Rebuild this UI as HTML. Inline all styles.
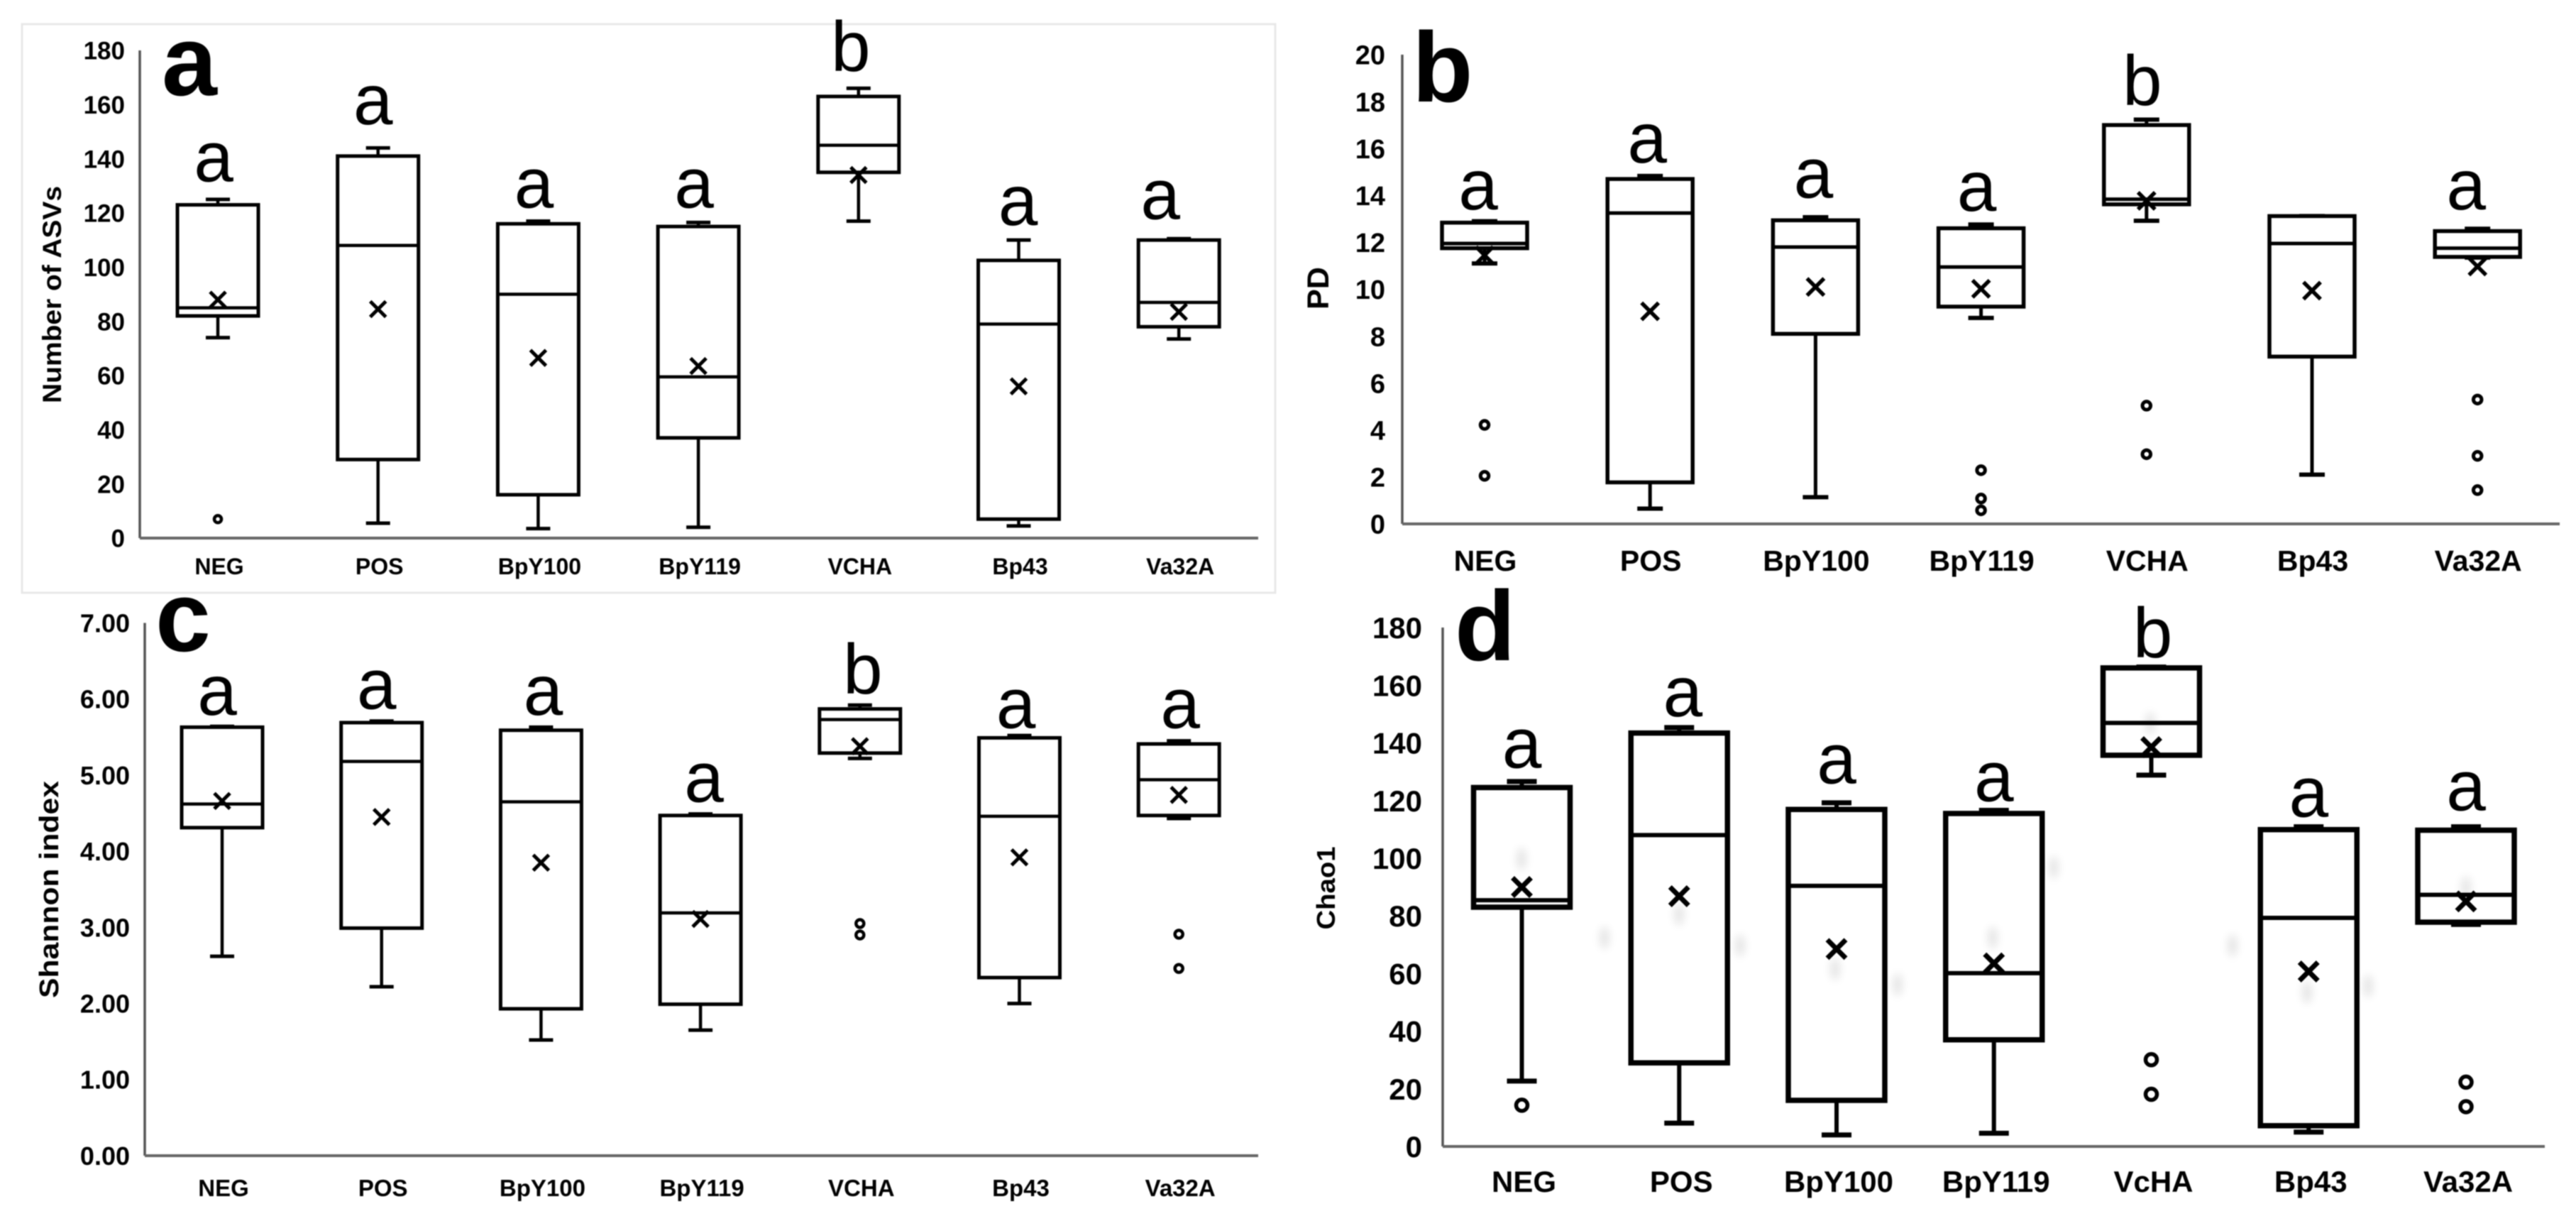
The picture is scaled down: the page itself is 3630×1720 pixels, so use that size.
<!DOCTYPE html>
<html lang="en">
<head>
<meta charset="utf-8">
<title>Alpha diversity box plots</title>
<style>
html,body{margin:0;padding:0;background:#fff;width:3630px;height:1720px;overflow:hidden}
svg{display:block;filter:blur(0.85px)}
text{font-family:"Liberation Sans",Arial,sans-serif;fill:#000}
</style>
</head>
<body>
<svg id="figure" xmlns="http://www.w3.org/2000/svg" width="3630" height="1720" viewBox="0 0 3630 1720">
<defs><filter id="soft" x="-100%" y="-100%" width="300%" height="300%"><feGaussianBlur stdDeviation="6"/></filter></defs>
<rect width="3630" height="1720" fill="#fff"/>
<rect x="31" y="34" width="1766" height="801" fill="none" stroke="#e8e8e8" stroke-width="3"/>
</svg>
<script>
const categories = ['NEG','POS','BpY100','BpY119','VCHA','Bp43','Va32A'];
const categoriesD = ['NEG','POS','BpY100','BpY119','VcHA','Bp43','Va32A'];

const ticksA = [0,20,40,60,80,100,120,140,160,180];
const lowA = [74,5.5,3.5,4,117,4.5,73.5];
const q1A = [82,29,16,37,135,7,78];
const medianA = [85,108,90,59.5,145,79,87];
const q3A = [123,141,116,115,163,102.5,110];
const highA = [125,144,117,116.5,166,110,110.5];
const meanA = [88,84.5,66.5,63.5,134,56,83.5];
const outliersA = [[7],[],[],[],[],[],[]];
const lettersA = ['a','a','a','a','b','a','a'];
const letterLevelA = [131.7,152.7,122,122,172.4,115.5,117.8];

const ticksB = [0,2,4,6,8,10,12,14,16,18,20];
const lowB = [11.1,0.65,1.14,8.78,12.92,2.1,11.35];
const q1B = [11.75,1.77,8.1,9.26,13.62,7.13,11.38];
const medianB = [11.95,13.25,11.8,10.95,13.84,11.95,11.75];
const q3B = [12.84,14.7,12.94,12.6,17,13.12,12.48];
const highB = [12.9,14.83,13.07,12.76,17.23,13.12,12.58];
const meanB = [11.45,9.06,10.1,10.02,13.77,9.94,10.97];
const outliersB = [[4.22,2.05],[],[],[2.29,1.08,0.58],[5.04,2.97],[],[5.3,2.9,1.44]];
const lettersB = ['a','a','a','a','b','','a'];
const letterLevelB = [13.4,15.4,13.9,13.35,17.85,0,13.4];

const ticksC = [0,1,2,3,4,5,6,7];
const lowC = [2.62,2.22,1.52,1.65,5.22,2,4.43];
const q1C = [4.31,2.99,1.93,1.99,5.29,2.34,4.47];
const medianC = [4.62,5.18,4.65,3.19,5.73,4.46,4.94];
const q3C = [5.63,5.69,5.59,4.47,5.87,5.49,5.41];
const highC = [5.64,5.71,5.63,4.49,5.92,5.52,5.45];
const meanC = [4.66,4.45,3.85,3.11,5.38,3.92,4.74];
const outliersC = [[],[],[],[],[3.05,2.9],[],[2.91,2.46]];
const lettersC = ['a','a','a','a','b','a','a'];
const letterLevelC = [5.79,5.87,5.79,4.65,6.07,5.62,5.62];

const ticksD = [0,20,40,60,80,100,120,140,160,180];
const lowD = [22.7,8.1,4,4.6,128.8,5,77];
const q1D = [83,29,16,37,135.7,7.2,77.8];
const medianD = [85.4,108,90.4,60.1,146.9,79.3,87.3];
const q3D = [124.5,143.4,116.9,115.5,166,109.9,109.7];
const highD = [126.6,145.3,119.2,116.6,166.3,110.9,110.9];
const meanD = [90,86.8,68.5,63.5,138.5,60.7,85];
const outliersD = [[14.3],[],[],[],[30.1,18.1],[],[22.3,13.8]];
const lettersD = ['a','a','a','a','b','a','a'];
const letterLevelD = [131.4,149.2,126,119.8,169.6,114.4,116.6];

const svg = document.getElementById('figure');

function make(tag, attrs, parent, content) {
  const el = document.createElementNS('http://www.w3.org/2000/svg', tag);
  for (const k in attrs) el.setAttribute(k, attrs[k]);
  if (content !== undefined) el.textContent = content;
  parent.appendChild(el);
  return el;
}

function drawPanel(p) {
  const g = make('g', {}, svg);
  
  
  const y = v => p.y0 - (v / p.max) * (p.y0 - p.yTop);
  const x = i => p.first + i * p.step;

  const yAxis = make('line', {x1:p.xAxis, x2:p.xAxis, y1:p.yTop, y2:p.y0, stroke:'#555', 'stroke-width':3.5}, g);
  
  
  const xAxis = make('line', {x1:p.xAxis, x2:p.xRight, y1:p.y0, y2:p.y0, stroke:'#666', 'stroke-width':4}, g);
  
  

  p.ticks.forEach(t => {
    const label = make('text', {x:p.tickRight, y:y(t) + p.tickFont * 0.36, 'font-size':p.tickFont, 'font-weight':'bold', 'text-anchor':'end'}, g, t.toFixed(p.decimals));
    
    
  });

  const title = make('text', {transform:'translate(' + p.titleX + ',' + p.titleY + ') rotate(-90)', 'font-size':p.titleFont, 'font-weight':'bold', 'text-anchor':'middle', textLength:p.titleLen, lengthAdjust:'spacingAndGlyphs'}, g, p.title);
  
  

  const tag = make('text', {x:p.tagX, y:p.tagY, 'font-size':140, 'font-weight':'bold'}, g, p.id);
  
  

  p.cats.forEach((cat, i) => {
    const cx = x(i);
    const box = make('g', {}, g);
    
    

    const whisker = make('line', {x1:cx, x2:cx, y1:y(p.high[i]), y2:y(p.low[i]), stroke:'#000', 'stroke-width':p.whiskerW}, box);
    
    

    [p.low[i], p.high[i]].forEach(v => {
      const cap = make('line', {x1:cx - p.capHalf, x2:cx + p.capHalf, y1:y(v), y2:y(v), stroke:'#000', 'stroke-width':p.capW}, box);
      
      
    });

    const rect = make('rect', {x:cx - p.half, width:p.half * 2, y:y(p.q3[i]), height:y(p.q1[i]) - y(p.q3[i]), fill:'#fff', stroke:'#000', 'stroke-width':p.boxW}, box);
    
    

    const med = make('line', {x1:cx - p.half, x2:cx + p.half, y1:y(p.median[i]), y2:y(p.median[i]), stroke:'#000', 'stroke-width':p.medW}, box);
    
    

    const my = y(p.mean[i]);
    const mean = make('path', {d:'M' + (cx - p.meanHalf) + ' ' + (my - p.meanHalf) + 'L' + (cx + p.meanHalf) + ' ' + (my + p.meanHalf) + 'M' + (cx + p.meanHalf) + ' ' + (my - p.meanHalf) + 'L' + (cx - p.meanHalf) + ' ' + (my + p.meanHalf), stroke:'#000', 'stroke-width':p.meanW, fill:'none'}, box);
    
    

    p.outliers[i].forEach(v => {
      const dot = make('circle', {cx:cx, cy:y(v), r:p.dotR, fill:'#fff', stroke:'#000', 'stroke-width':p.dotW}, box);
      
      
    });

    if (p.letters[i]) {
      const letter = make('text', {x:cx + p.letterNudge[i], y:y(p.letterLevel[i]), 'font-size':100, 'text-anchor':'middle'}, g, p.letters[i]);
      
      
    }

    const label = make('text', {x:cx + p.catDx, y:p.catY, 'font-size':p.catFont, 'font-weight':'bold', 'text-anchor':'middle'}, g, cat);
    
    
  });

  (p.smudges || []).forEach(s => {
    const smudge = make('ellipse', {cx:s[0], cy:s[1], rx:7, ry:16, fill:'#000', opacity:0.1, filter:'url(#soft)'}, g);
    
    
  });
}

drawPanel({id:'a', title:'Number of ASVs', cats:categories, ticks:ticksA, decimals:0, max:180,
  low:lowA, q1:q1A, median:medianA, q3:q3A, high:highA, mean:meanA, outliers:outliersA, letters:lettersA, letterLevel:letterLevelA,
  xAxis:197, xRight:1773, y0:758, yTop:71, first:307, step:225.7, half:57,
  tickRight:176, tickFont:35, catY:809, catDx:2, catFont:32, titleX:86, titleY:415, titleFont:37, titleLen:306,
  tagX:228, tagY:134, letterNudge:[-6,-7,-6,-6,-11,-1,-26],
  boxW:5, medW:4.5, whiskerW:4.5, capW:5, capHalf:17, meanHalf:11, meanW:5, dotR:5, dotW:4.5});

drawPanel({id:'b', title:'PD', cats:categories, ticks:ticksB, decimals:0, max:20,
  low:lowB, q1:q1B, median:medianB, q3:q3B, high:highB, mean:meanB, outliers:outliersB, letters:lettersB, letterLevel:letterLevelB,
  xAxis:1976, xRight:3607, y0:738, yTop:77, first:2092, step:233.2, half:60,
  tickRight:1952, tickFont:38, catY:804, catDx:1, catFont:41, titleX:1872, titleY:406, titleFont:43, titleLen:60,
  tagX:1990, tagY:143, letterNudge:[-9,-4,-3,-6,-6,0,-16],
  boxW:5.5, medW:5, whiskerW:5, capW:6, capHalf:18, meanHalf:12, meanW:5.5, dotR:5.75, dotW:5});

drawPanel({id:'c', title:'Shannon index', cats:categories, ticks:ticksC, decimals:2, max:7,
  low:lowC, q1:q1C, median:medianC, q3:q3C, high:highC, mean:meanC, outliers:outliersC, letters:lettersC, letterLevel:letterLevelC,
  xAxis:204, xRight:1773, y0:1628, yTop:877.5, first:313, step:224.7, half:57,
  tickRight:183, tickFont:36, catY:1685, catDx:2, catFont:33, titleX:82, titleY:1253, titleFont:38, titleLen:306,
  tagX:219, tagY:917, letterNudge:[-7,-7,3,5,4,-5,2],
  boxW:5, medW:4.5, whiskerW:4.5, capW:5, capHalf:17, meanHalf:11, meanW:5, dotR:5.5, dotW:4.5});

drawPanel({id:'d', title:'Chao1', cats:categoriesD, ticks:ticksD, decimals:0, max:180,
  low:lowD, q1:q1D, median:medianD, q3:q3D, high:highD, mean:meanD, outliers:outliersD, letters:lettersD, letterLevel:letterLevelD,
  xAxis:2033, xRight:3586, y0:1615, yTop:884, first:2144.5, step:221.75, half:68,
  tickRight:2004, tickFont:42, catY:1679, catDx:3, catFont:42, titleX:1881, titleY:1251, titleFont:36, titleLen:117,
  tagX:2050, tagY:930, letterNudge:[0,5,0,0,2,0,0],
  boxW:7.5, medW:6, whiskerW:6, capW:7, capHalf:21, meanHalf:13, meanW:7, dotR:8, dotW:5.5,
  smudges:[[2144,1210],[2366,1288],[2261,1321],[2452,1332],[2586,1365],[2674,1387],[2808,1321],[2894,1222],[3030,1019],[3251,1398],[3337,1389],[3146,1332],[3475,1250]]});
</script>
</body>
</html>
